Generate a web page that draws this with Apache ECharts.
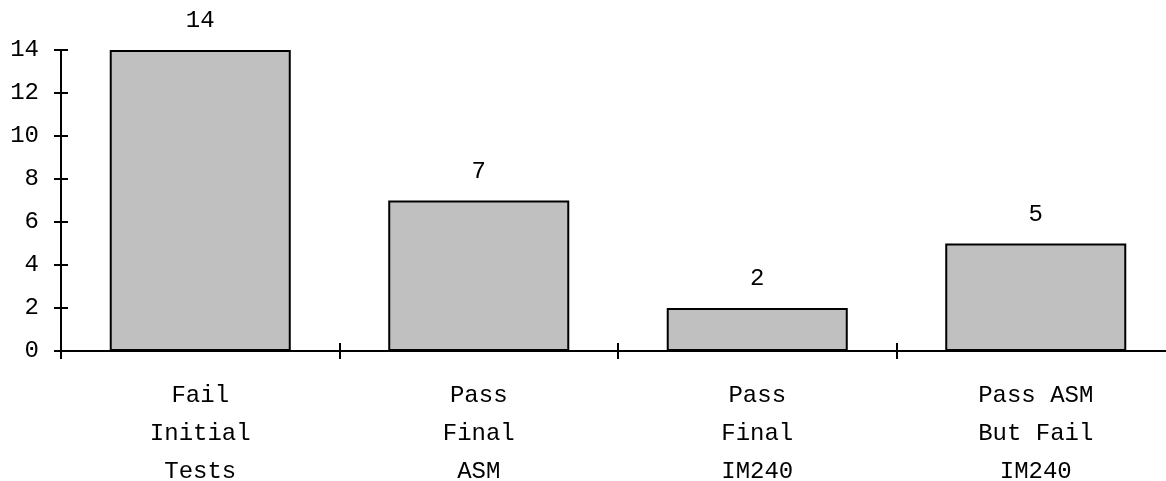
<!DOCTYPE html>
<html><head><meta charset="utf-8">
<script src="https://cdn.jsdelivr.net/npm/echarts@6/dist/echarts.min.js"></script>
<style>html,body{margin:0;padding:0;background:#fff}#c{width:1166px;height:481px}</style>
</head><body><div id="c"></div>
<script>
const categories = ['Fail\nInitial\nTests', 'Pass\nFinal\nASM', 'Pass\nFinal\nIM240', 'Pass ASM\nBut Fail\nIM240'];
const values = [14, 7, 2, 5];
const yTicks = [0, 2, 4, 6, 8, 10, 12, 14];

const FONT = '"Liberation Mono", "Courier New", monospace';
const chart = echarts.init(document.getElementById('c'), null, {renderer: 'canvas'});
const axisLine = {show: true, lineStyle: {color: '#000', width: 2}};
chart.setOption({
  animation: false,
  grid: {left: 61, top: 50, width: 1114, height: 301, containLabel: false, outerBoundsMode: 'none'},
  xAxis: [{
    type: 'category', data: categories,
    axisLine: axisLine,
    axisTick: {show: true, length: 8, lineStyle: {color: '#000', width: 2}},
    axisLabel: {color: '#000', fontFamily: FONT, fontSize: 24, lineHeight: 38, margin: 26, interval: 0},
    splitLine: {show: false}
  }, {
    type: 'category', data: categories, position: 'bottom',
    axisLine: {show: false},
    axisTick: {show: true, inside: true, length: 8, lineStyle: {color: '#000', width: 2}},
    axisLabel: {show: false}, splitLine: {show: false}
  }],
  yAxis: [{
    type: 'value', min: yTicks[0], max: yTicks[yTicks.length - 1], interval: 2,
    axisLine: axisLine,
    axisTick: {show: true, length: 7, lineStyle: {color: '#000', width: 2}},
    axisLabel: {color: '#000', fontFamily: FONT, fontSize: 24, margin: 22},
    splitLine: {show: false}
  }, {
    type: 'value', min: yTicks[0], max: yTicks[yTicks.length - 1], interval: 2, position: 'left',
    axisLine: {show: false},
    axisTick: {show: true, inside: true, length: 7, lineStyle: {color: '#000', width: 2}},
    axisLabel: {show: false}, splitLine: {show: false}
  }],
  series: [{
    type: 'bar', data: values, barCategoryGap: '35%',
    itemStyle: {color: '#c0c0c0', borderColor: '#000', borderWidth: 2},
    label: {show: true, position: 'top', distance: 17, color: '#000', fontFamily: FONT, fontSize: 24}
  }]
});
</script></body></html>
